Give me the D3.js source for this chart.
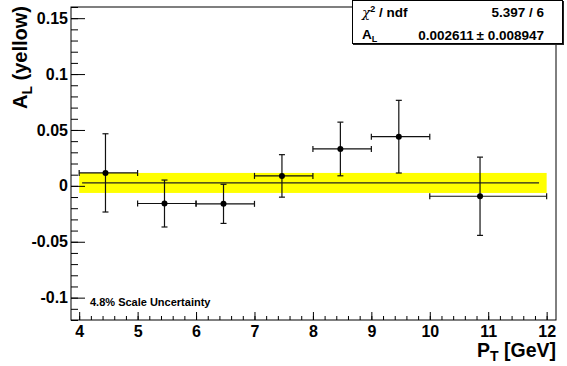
<!DOCTYPE html>
<html>
<head>
<meta charset="utf-8">
<script src="https://cdn.jsdelivr.net/npm/d3@7"></script>
<style>
  body { margin: 0; background: white; }
  text { font-family: "Liberation Sans", Arial, sans-serif; font-weight: bold; }
</style>
</head>
<body>
<script>
const w = 567;
const h = 366;

// data
const ptCenter = [4.45, 5.46, 6.47, 7.47, 8.47, 9.47, 10.86];
const ptLow    = [4, 5, 6, 7, 8, 9, 10];
const ptHigh   = [5, 6, 7, 8, 9, 10, 12];
const alValue  = [0.0116, -0.0158, -0.0161, 0.0089, 0.033, 0.044, -0.0093];
const alError  = [0.035, 0.021, 0.0175, 0.019, 0.024, 0.0325, 0.035];

const fitValue = 0.002611;
const fitError = 0.008947;
const fitRange = [4.05, 11.87];
const bandRange = [4, 12];

const xMajor = [4, 5, 6, 7, 8, 9, 10, 11, 12];
const yMajor = [-0.1, -0.05, 0, 0.05, 0.1, 0.15];

const chiText = "5.397 / 6";
const alText = "0.002611\u2009\u00b1 0.008947";
const noteText = "4.8% Scale Uncertainty";

let svg = d3.select("body").append("svg")
    .attr("width", w)
    .attr("height", h);

var x = d3.scaleLinear().domain([3.86, 12.16]).range([71, 556]);
var y = d3.scaleLinear().domain([-0.12, 0.16]).range([320, 7]);

// yellow band for the fit error
svg.append("rect")
    .attr("x", x(bandRange[0]))
    .attr("y", y(fitValue + fitError))
    .attr("width", x(bandRange[1]) - x(bandRange[0]))
    .attr("height", y(fitValue - fitError) - y(fitValue + fitError))
    .attr("fill", "#ffff00");

// fit line
svg.append("line")
    .attr("x1", x(fitRange[0])).attr("x2", x(fitRange[1]))
    .attr("y1", y(fitValue)).attr("y2", y(fitValue))
    .attr("stroke", "#222").attr("stroke-width", 1.2);

// data points with error bars
let pts = svg.append("g").selectAll("g")
    .data(ptCenter.map(function (d, i) {
        return { x: d, lo: ptLow[i], hi: ptHigh[i], v: alValue[i], e: alError[i] };
    }))
    .join("g")
    .attr("stroke", "#111")
    .attr("stroke-width", 1.2);

pts.append("line")
    .attr("x1", d => x(d.lo)).attr("x2", d => x(d.hi))
    .attr("y1", d => y(d.v)).attr("y2", d => y(d.v));
pts.append("line")
    .attr("x1", d => x(d.x)).attr("x2", d => x(d.x))
    .attr("y1", d => y(d.v - d.e)).attr("y2", d => y(d.v + d.e));

// end caps
pts.append("line")
    .attr("x1", d => x(d.lo)).attr("x2", d => x(d.lo))
    .attr("y1", d => y(d.v) - 3).attr("y2", d => y(d.v) + 3);
pts.append("line")
    .attr("x1", d => x(d.hi)).attr("x2", d => x(d.hi))
    .attr("y1", d => y(d.v) - 3).attr("y2", d => y(d.v) + 3);
pts.append("line")
    .attr("x1", d => x(d.x) - 3).attr("x2", d => x(d.x) + 3)
    .attr("y1", d => y(d.v + d.e)).attr("y2", d => y(d.v + d.e));
pts.append("line")
    .attr("x1", d => x(d.x) - 3).attr("x2", d => x(d.x) + 3)
    .attr("y1", d => y(d.v - d.e)).attr("y2", d => y(d.v - d.e));

pts.append("circle")
    .attr("cx", d => x(d.x)).attr("cy", d => y(d.v))
    .attr("r", 3).attr("fill", "black").attr("stroke", "none");

// axes
var yFmt = function (d) { return d === 0 ? "0" : String(+d.toFixed(2)); };

svg.append("g")
    .attr("transform", "translate(71,0)")
    .call(d3.axisLeft(y).tickValues(d3.range(-12, 17).map(d => d / 100)).tickSize(-7).tickFormat(""))
    .call(g => g.select(".domain").remove());
svg.append("g")
    .attr("transform", "translate(71,0)")
    .call(d3.axisLeft(y).tickValues(yMajor).tickSize(-14).tickPadding(3).tickFormat(yFmt))
    .call(g => g.select(".domain").remove())
    .call(g => g.selectAll("text").attr("font-size", 16).attr("fill", "black"));

svg.append("g")
    .attr("transform", "translate(0,320)")
    .call(d3.axisBottom(x).tickValues(d3.range(20, 61).map(d => d / 5)).tickSize(-4).tickFormat(""))
    .call(g => g.select(".domain").remove());
svg.append("g")
    .attr("transform", "translate(0,320)")
    .call(d3.axisBottom(x).tickValues(xMajor).tickSize(-8).tickPadding(6).tickFormat(d3.format("d")))
    .call(g => g.select(".domain").remove())
    .call(g => g.selectAll("text").attr("font-size", 16).attr("fill", "black"));

svg.selectAll(".tick line").attr("stroke", "black");

// frame
svg.append("rect")
    .attr("x", 71).attr("y", 7)
    .attr("width", 556 - 71).attr("height", 320 - 7)
    .attr("fill", "none").attr("stroke", "black");

// axis titles
let xt = svg.append("text")
    .attr("x", 556).attr("y", 357)
    .attr("text-anchor", "end")
    .attr("font-size", 19.5);
xt.append("tspan").text("P");
xt.append("tspan").attr("font-size", 14).attr("dy", 4).text("T");
xt.append("tspan").attr("dy", -4).text(" [GeV]");

let yt = svg.append("text")
    .attr("transform", "translate(27,6) rotate(-90)")
    .attr("text-anchor", "end")
    .attr("font-size", 20);
yt.append("tspan").text("A");
yt.append("tspan").attr("font-size", 14).attr("dy", 5).text("L");
yt.append("tspan").attr("dy", -5).text(" (yellow)");

// note
svg.append("text")
    .attr("x", 90).attr("y", 306)
    .attr("font-size", 11)
    .text(noteText);

// stats box
svg.append("rect")
    .attr("x", 353).attr("y", 1)
    .attr("width", 211).attr("height", 44)
    .attr("fill", "#222");
svg.append("rect")
    .attr("x", 352.5).attr("y", 0.5)
    .attr("width", 210).attr("height", 43)
    .attr("fill", "white").attr("stroke", "black");

let chi = svg.append("text").attr("x", 362).attr("y", 17).attr("font-size", 13.5);
chi.append("tspan").attr("font-weight", "normal").attr("font-style", "italic").attr("font-family", "DejaVu Serif").text("\u03c7");
chi.append("tspan").attr("font-size", 9).attr("dy", -5).text("2");
chi.append("tspan").attr("dy", 5).text(" / ndf");
svg.append("text").attr("x", 544).attr("y", 17).attr("font-size", 13.5)
    .attr("text-anchor", "end").text(chiText);

let al = svg.append("text").attr("x", 362).attr("y", 39).attr("font-size", 13.5);
al.append("tspan").text("A");
al.append("tspan").attr("font-size", 9).attr("dy", 3).text("L");
svg.append("text").attr("x", 544).attr("y", 40).attr("font-size", 13.5)
    .attr("text-anchor", "end").text(alText);
</script>
</body>
</html>
